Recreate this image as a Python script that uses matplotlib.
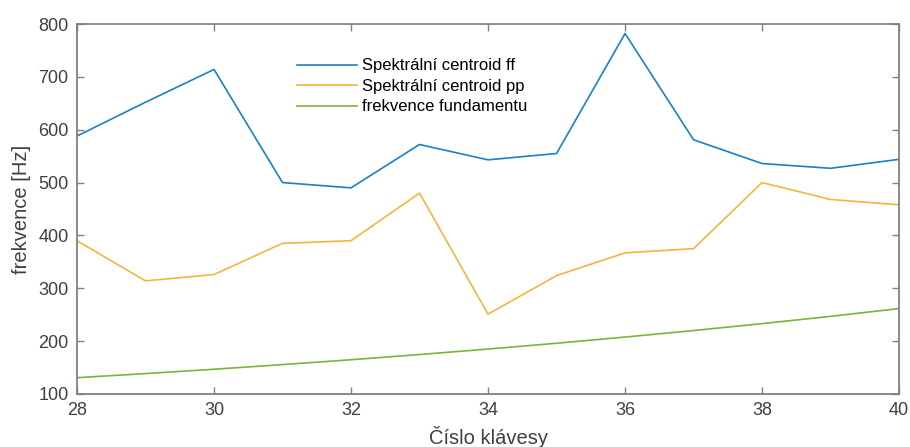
import matplotlib
matplotlib.use("Agg")
import matplotlib.pyplot as plt

plt.rcParams["font.family"] = ["Liberation Sans", "DejaVu Sans"]

# piano key numbers and frequencies [Hz]
keys = [28, 29, 30, 31, 32, 33, 34, 35, 36, 37, 38, 39, 40]
centroid_ff = [588, 652, 714, 500, 490, 572, 543, 555, 782, 581, 536, 527, 544]
centroid_pp = [390, 314, 326, 385, 390, 480, 251, 324, 367, 375, 500, 468, 458]
fundamental = [130.8, 138.6, 146.8, 155.6, 164.8, 174.6, 185.0, 196.0, 207.7, 220.0, 233.1, 246.9, 261.6]

fig = plt.figure(figsize=(9.1, 4.47), dpi=100)
ax = fig.add_axes([0.0846, 0.1186, 0.9034, 0.8277])
ax.plot(keys, centroid_ff, color="#1a80cc", lw=1.2, label="Spektrální centroid ff")
ax.plot(keys, centroid_pp, color="#efb83a", lw=1.2, label="Spektrální centroid pp")
ax.plot(keys, fundamental, color="#7cb339", lw=1.2, label="frekvence fundamentu")

ax.set_xlim(28, 40); ax.set_ylim(100, 800)
ax.set_xticks(range(28, 41, 2)); ax.set_yticks(range(100, 801, 100))
ax.tick_params(direction="in", top=True, right=True, length=5, width=1.0,
               labelsize=13, color="#808080", labelcolor="#404040", pad=6)
for s in ax.spines.values():
    s.set_color("#808080"); s.set_linewidth(1.3)
ax.set_xlabel("Číslo klávesy", fontsize=14.5, color="#404040", labelpad=5)
ax.set_ylabel("frekvence [Hz]", fontsize=14.5, color="#404040", labelpad=5)
ax.legend(loc="upper left", bbox_to_anchor=(0.26, 0.925), frameon=False, fontsize=12,
          handlelength=3.6, handletextpad=0.3, labelspacing=0.33, borderaxespad=0)

fig.savefig("out.png", dpi=100, facecolor="white")
